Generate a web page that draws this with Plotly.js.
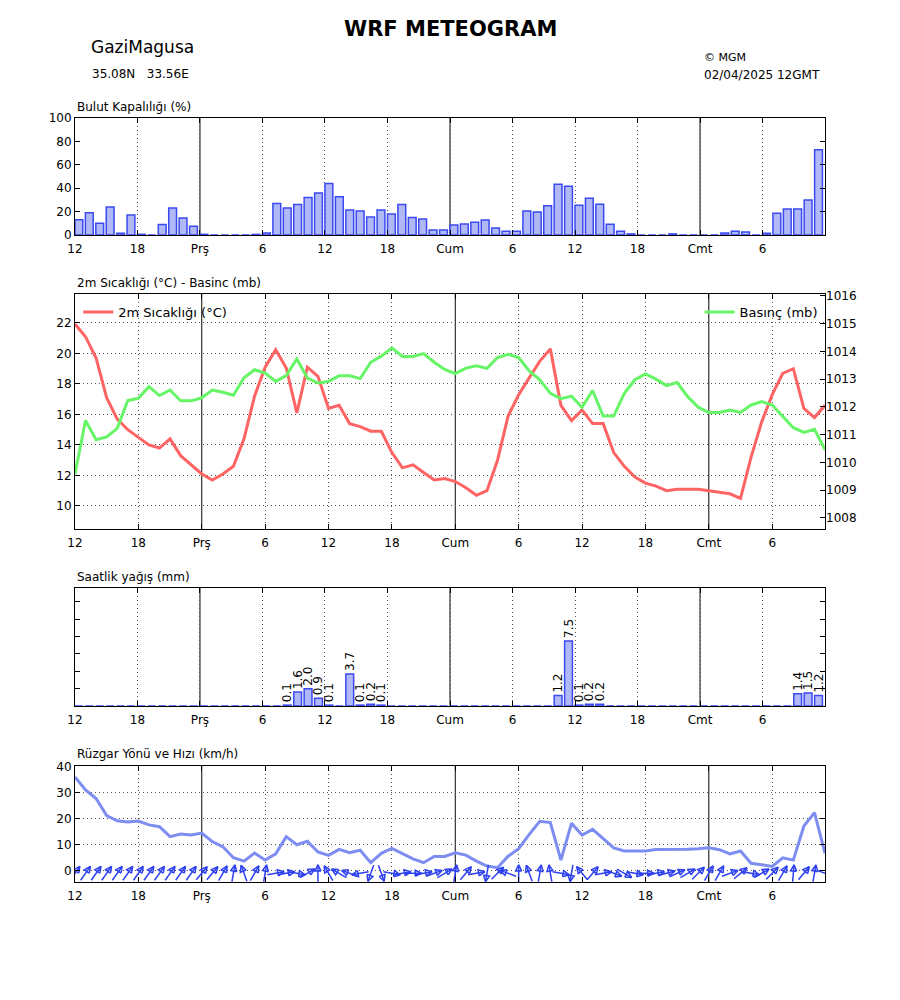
<!DOCTYPE html>
<html>
<head>
<meta charset="utf-8">
<script src="https://cdn.plot.ly/plotly-3.0.1.min.js"></script>
<style>
body { margin: 0; background: #fff; }
#meteogram { width: 900px; height: 1000px; }
</style>
</head>
<body>
<div id="meteogram"></div>
<script>
// forecast hours from 02/04/2025 12GMT
let hours = [0, 1, 2, 3, 4, 5, 6, 7, 8, 9, 10, 11, 12, 13, 14, 15, 16, 17, 18, 19, 20, 21, 22, 23,
    24, 25, 26, 27, 28, 29, 30, 31, 32, 33, 34, 35, 36, 37, 38, 39, 40, 41, 42, 43, 44, 45, 46, 47,
    48, 49, 50, 51, 52, 53, 54, 55, 56, 57, 58, 59, 60, 61, 62, 63, 64, 65, 66, 67, 68, 69, 70, 71];

let tickVals = [0, 6, 12, 18, 24, 30, 36, 42, 48, 54, 60, 66];
let tickText = ['12', '18', 'Prş', '6', '12', '18', 'Cum', '6', '12', '18', 'Cmt', '6'];
let dayStarts = [12, 36, 60];

// cloud cover (%)
let cloud = [13, 19, 10, 24, 1.5, 17, 0.6, 0, 9, 23, 14.6, 7.4, 0.6, 0, 0, 0, 0, 0.5, 1.7, 27, 23, 26, 32, 36,
    44, 32.6, 21.4, 20.6, 15.4, 21.4, 18, 26, 14.9, 13.7, 4.3, 4.3, 8.6, 9.4, 11, 12.9, 6, 3.1, 3.1, 20.6,
    19.7, 24.9, 43.4, 41.7, 25.4, 31.4, 26.3, 9.1, 3.1, 0.9, 0, 0, 0, 0.9, 0, 0, 0, 0, 1.7, 3.1, 2.6, 0,
    1.4, 18.6, 22.3, 22.3, 30, 72.9];

// 2m temperature (C)
let temp = [21.93, 21.1, 19.7, 17.1, 15.7, 15.0, 14.5, 14.0, 13.8, 14.4, 13.3, 12.7, 12.1, 11.7, 12.1, 12.6,
    14.4, 17.2, 19.1, 20.25, 19.05, 16.1, 19.1, 18.5, 16.4, 16.6, 15.4, 15.2, 14.9, 14.9, 13.5, 12.5, 12.7,
    12.2, 11.7, 11.8, 11.6, 11.2, 10.7, 11.0, 13.0, 15.9, 17.3, 18.4, 19.5, 20.3, 16.6, 15.6, 16.3, 15.4,
    15.4, 13.5, 12.6, 11.9, 11.5, 11.3, 11.0, 11.1, 11.1, 11.1, 11.0, 10.9, 10.8, 10.5, 13.2, 15.5, 17.3,
    18.7, 19.0, 16.4, 15.8, 16.6];

// pressure (mb)
let pressure = [1009.58, 1011.51, 1010.82, 1010.92, 1011.23, 1012.23, 1012.31, 1012.73, 1012.41, 1012.61,
    1012.22, 1012.22, 1012.33, 1012.61, 1012.53, 1012.42, 1013.05, 1013.34, 1013.22, 1012.92, 1013.13,
    1013.73, 1013.04, 1012.86, 1012.92, 1013.12, 1013.12, 1013.02, 1013.61, 1013.83, 1014.13, 1013.82,
    1013.82, 1013.92, 1013.61, 1013.35, 1013.2, 1013.40, 1013.48, 1013.39, 1013.78, 1013.90, 1013.78,
    1013.30, 1012.98, 1012.49, 1012.30, 1012.39, 1011.99, 1012.59, 1011.67, 1011.67, 1012.49, 1012.98,
    1013.19, 1013.0, 1012.77, 1012.88, 1012.37, 1011.99, 1011.80, 1011.80, 1011.89, 1011.80, 1012.07,
    1012.19, 1012.07, 1011.65, 1011.25, 1011.08, 1011.19, 1010.45];

// hourly precipitation (mm)
let rain = [0, 0, 0, 0, 0, 0, 0, 0, 0, 0, 0, 0, 0, 0, 0, 0, 0, 0, 0, 0, 0.1, 1.6, 2.0, 0.9,
    0.1, 0, 3.7, 0.1, 0.2, 0.1, 0, 0, 0, 0, 0, 0, 0, 0, 0, 0, 0, 0, 0, 0, 0, 0, 1.2, 7.5,
    0.1, 0.2, 0.2, 0, 0, 0, 0, 0, 0, 0, 0, 0, 0, 0, 0, 0, 0, 0, 0, 0, 0, 1.4, 1.5, 1.2];

// wind speed (km/h) and direction the arrow points (deg, clockwise from north)
let windSpeed = [36.0, 31.0, 27.7, 21.2, 19.2, 18.7, 19.1, 17.6, 16.9, 13.1, 14.1, 13.7, 14.5, 11.2, 9.2,
    5.0, 3.7, 6.8, 4.1, 6.5, 13.1, 10.0, 11.3, 7.2, 5.9, 8.2, 6.9, 7.9, 3.1, 6.7, 8.6, 6.5, 4.6, 3.1, 5.5,
    5.5, 6.9, 6.0, 3.7, 1.8, 1.2, 5.6, 8.5, 14.0, 19.0, 18.5, 4.1, 18.2, 13.7, 15.9, 12.3, 8.8, 7.6, 7.6,
    7.6, 8.2, 8.2, 8.2, 8.3, 8.5, 8.8, 8.1, 6.5, 7.6, 2.9, 2.3, 1.7, 5.0, 4.1, 17.2, 22.3, 6.7];
let windDir = [35, 35, 35, 35, 35, 35, 35, 35, 35, 35, 35, 35, 40, 40, 30, 10, 340, 30, 10, 80, 80, 100,
    60, 0, 330, 300, 290, 260, 200, 160, 100, 80, 90, 80, 70, 60, 10, 40, 80, 190, 45, 290, 0, 340, 10,
    350, 100, 190, 320, 40, 80, 110, 120, 100, 90, 80, 75, 65, 60, 45, 30, 30, 70, 50, 100, 60, 45, 30,
    5, 40, 10, 110];

let font = 'DejaVu Sans, sans-serif';
let barFill = '#b1b8f6';
let barEdge = '#3a4af0';
let arrowBlue = '#2d40f0';
let gridDots = '1px,3px';

let xDomain = [0.0833, 0.9167];
let windDomain = [0.118, 0.234];
let windRange = [-4.3, 40.2];

function xAxisFor(yName, xmax) {
    return {
        anchor: yName,
        domain: xDomain,
        range: [0, xmax],
        tickvals: tickVals,
        ticktext: tickText,
        ticks: 'inside',
        ticklen: 5,
        tickcolor: '#000',
        ticklabelstandoff: 3,
        showline: true,
        linecolor: '#000',
        linewidth: 1,
        mirror: 'ticks',
        showgrid: true,
        gridcolor: '#555',
        griddash: gridDots,
        gridwidth: 1,
        zeroline: false,
        tickfont: { family: font, size: 12, color: '#000' }
    };
}

function yAxisFor(xName, domain, range, extra) {
    let ax = {
        anchor: xName,
        domain: domain,
        range: range,
        ticks: 'inside',
        ticklen: 5,
        tickcolor: '#000',
        showline: true,
        linecolor: '#000',
        linewidth: 1,
        mirror: 'ticks',
        showgrid: false,
        zeroline: false,
        tickfont: { family: font, size: 12, color: '#000' }
    };
    return Object.assign(ax, extra);
}

// wind arrows: fixed on-screen length, centred just under the zero line
let pxPerHour = (xDomain[1] - xDomain[0]) * 900 / 71;
let pxPerKmh = (windDomain[1] - windDomain[0]) * 1000 / (windRange[1] - windRange[0]);
let arrowLen = 17;
let headLen = 7;
let headSpread = 26 * Math.PI / 180;
let arrowMid = -2.5 / pxPerKmh;
let arrowX = [], arrowY = [];
windDir.forEach((d, i) => {
    let r = d * Math.PI / 180;
    let tipX = hours[i] + arrowLen / 2 * Math.sin(r) / pxPerHour;
    let tipY = arrowMid + arrowLen / 2 * Math.cos(r) / pxPerKmh;
    let tailX = hours[i] - arrowLen / 2 * Math.sin(r) / pxPerHour;
    let tailY = arrowMid - arrowLen / 2 * Math.cos(r) / pxPerKmh;
    let b1X = tipX - headLen * Math.sin(r - headSpread) / pxPerHour;
    let b1Y = tipY - headLen * Math.cos(r - headSpread) / pxPerKmh;
    let b2X = tipX - headLen * Math.sin(r + headSpread) / pxPerHour;
    let b2Y = tipY - headLen * Math.cos(r + headSpread) / pxPerKmh;
    arrowX.push(tailX, tipX, null, b1X, tipX, b2X, b1X, null);
    arrowY.push(tailY, tipY, null, b1Y, tipY, b2Y, b1Y, null);
});

let graphData = [
    {
        x: hours, y: cloud, type: 'bar', xaxis: 'x', yaxis: 'y',
        width: 0.75, offset: 0, showlegend: false,
        marker: { color: barFill, line: { color: barEdge, width: 1.5 } }
    },
    {
        x: hours, y: temp, type: 'scatter', mode: 'lines', xaxis: 'x2', yaxis: 'y2',
        name: '2m Sıcaklığı (°C)', legend: 'legend',
        line: { color: '#ff6464', width: 3 }
    },
    {
        x: hours, y: pressure, type: 'scatter', mode: 'lines', xaxis: 'x2', yaxis: 'y3',
        name: 'Basınç (mb)', legend: 'legend2',
        line: { color: '#66f566', width: 3 }
    },
    {
        x: hours, y: rain, type: 'bar', xaxis: 'x3', yaxis: 'y4',
        width: 0.75, offset: 0, showlegend: false,
        text: rain.map(v => v > 0 ? v.toFixed(1) : ''),
        textposition: 'outside', textangle: -90, constraintext: 'none', cliponaxis: false,
        textfont: { family: font, size: 12, color: '#000' },
        marker: { color: barFill, line: { color: barEdge, width: 1.5 } }
    },
    {
        x: hours, y: windSpeed, type: 'scatter', mode: 'lines', xaxis: 'x4', yaxis: 'y5',
        showlegend: false,
        line: { color: '#7d8df1', width: 3 }
    },
    {
        x: arrowX, y: arrowY, type: 'scatter', mode: 'lines', xaxis: 'x4', yaxis: 'y5',
        showlegend: false, connectgaps: false,
        line: { color: arrowBlue, width: 1.5 }
    }
];

// solid day-boundary lines in every panel
let panels = [['x', 'y'], ['x2', 'y2'], ['x3', 'y4'], ['x4', 'y5']];
let shapes = [];
panels.forEach(p => {
    dayStarts.forEach(d => {
        shapes.push({
            type: 'line', xref: p[0], yref: p[1] + ' domain',
            x0: d, x1: d, y0: 0, y1: 1, layer: 'below',
            line: { color: '#000', width: 1 }
        });
    });
});

function label(text, x, y, size, anchor, bold) {
    return {
        xref: 'paper', yref: 'paper', x: x, y: y, text: bold ? '<b>' + text + '</b>' : text,
        showarrow: false, xanchor: anchor, yanchor: 'middle',
        font: { family: font, size: size, color: '#000' }
    };
}

let texts = [
    label('WRF METEOGRAM', 0.5, 0.971, 21, 'center', true),
    label('GaziMagusa', 0.099, 0.953, 17, 'left'),
    label('35.08N\u00a0\u00a0\u00a033.56E', 0.1, 0.926, 12, 'left'),
    label('© MGM', 0.78, 0.943, 11, 'left'),
    label('02/04/2025 12GMT', 0.78, 0.925, 12, 'left'),
    label('Bulut Kapalılığı (%)', 0.0833, 0.893, 12, 'left'),
    label('2m Sıcaklığı (°C) - Basinc (mb)', 0.0833, 0.717, 12, 'left'),
    label('Saatlik yağış (mm)', 0.0833, 0.423, 12, 'left'),
    label('Rüzgar Yönü ve Hızı (km/h)', 0.0833, 0.246, 12, 'left')
];

let layout = {
    width: 900,
    height: 1000,
    autosize: false,
    margin: { l: 0, r: 0, t: 0, b: 0 },
    paper_bgcolor: '#fff',
    plot_bgcolor: '#fff',
    bargap: 0,
    font: { family: font, size: 12, color: '#000' },
    xaxis: xAxisFor('y', 72),
    yaxis: yAxisFor('x', [0.765, 0.882], [0, 100], { tickvals: [0, 20, 40, 60, 80, 100] }),
    xaxis2: xAxisFor('y2', 71),
    yaxis2: yAxisFor('x2', [0.471, 0.706], [8.49, 23.9], {
        tickvals: [10, 12, 14, 16, 18, 20, 22], mirror: true,
        showgrid: true, gridcolor: '#555', griddash: gridDots
    }),
    yaxis3: yAxisFor('x2', [0.471, 0.706], [1007.6, 1016.07], {
        overlaying: 'y2', side: 'right', mirror: false, showline: false,
        tickvals: [1008, 1009, 1010, 1011, 1012, 1013, 1014, 1015, 1016]
    }),
    xaxis3: xAxisFor('y4', 72),
    yaxis4: yAxisFor('x3', [0.294, 0.412], [0, 13.6], {
        tickvals: [0, 2, 4, 6, 8, 10, 12], showticklabels: false
    }),
    xaxis4: xAxisFor('y5', 71),
    yaxis5: yAxisFor('x4', windDomain, windRange, {
        tickvals: [0, 10, 20, 30, 40], showgrid: true, gridcolor: '#555', griddash: gridDots
    }),
    legend: {
        x: 0.087, y: 0.703, xanchor: 'left', yanchor: 'top',
        bgcolor: 'rgba(0,0,0,0)', font: { family: font, size: 13 }
    },
    legend2: {
        x: 0.914, y: 0.703, xanchor: 'right', yanchor: 'top',
        bgcolor: 'rgba(0,0,0,0)', font: { family: font, size: 13 }
    },
    shapes: shapes,
    annotations: texts
};

let options = {
    displayModeBar: false,
    staticPlot: true
};

Plotly.newPlot('meteogram', graphData, layout, options);
</script>
</body>
</html>
